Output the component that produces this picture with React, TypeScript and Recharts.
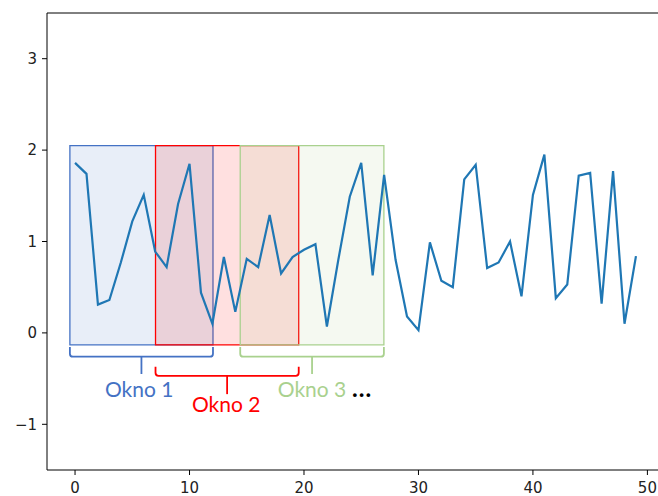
import { LineChart, Line, XAxis, YAxis, ReferenceArea, ReferenceLine, ReferenceDot } from "recharts"

// signal samples, one per step 0..49
const values = [
  1.86, 1.74, 0.31, 0.36, 0.77, 1.22, 1.51, 0.89, 0.72, 1.41,
  1.85, 0.44, 0.1, 0.83, 0.23, 0.81, 0.72, 1.29, 0.65, 0.83,
  0.91, 0.97, 0.07, 0.8, 1.49, 1.86, 0.63, 1.73, 0.8, 0.18,
  0.03, 0.99, 0.57, 0.5, 1.68, 1.84, 0.71, 0.77, 1.0, 0.4,
  1.51, 1.95, 0.38, 0.53, 1.72, 1.75, 0.32, 1.77, 0.1, 0.84,
]

const xTicks = [0, 10, 20, 30, 40, 50]
const yTicks = [-1, 0, 1, 2, 3]

// sliding windows
const windowNames = ["Okno 1", "Okno 2", "Okno 3"]
const windowStart = [-0.45, 7.03, 14.43]
const windowEnd = [12.05, 19.54, 26.98]
const windowTop = 2.05
const windowBottom = -0.13

// braces under each window
const braceEnd = [-0.155, -0.37, -0.155]
const braceLevel = [-0.26, -0.47, -0.26]
const braceTip = [-0.45, -0.67, -0.45]

// window captions
const labelX = [5.6, 13.2, 20.7]
const labelY = [-0.7, -0.86, -0.7]
const moreX = 24.2
const moreY = -0.7

const colors = ["#4472c4", "#ff0000", "#a9d18e"]

const data = values.map((v, i) => ({ step: i, value: v }))

const tickStyle = { fontFamily: "DejaVu Sans", fontSize: 15, fill: "#222" }
const minus = (v: number) => String(v).replace("-", "\u2212")

function Brace(props: any) {
  const { x, y, width, height, stroke } = props
  const r = 3
  const b = y + height
  const d = `M${x},${y} L${x},${b - r} Q${x},${b} ${x + r},${b} L${x + width - r},${b} Q${x + width},${b} ${x + width},${b - r} L${x + width},${y}`
  return <path d={d} fill="none" stroke={stroke} strokeWidth={1.8} />
}

export default function App() {
  return (
    <div style={{ position: "absolute", left: 0, top: 0, width: 658, height: 496, overflow: "hidden", background: "#fff" }}>
      <LineChart width={680} height={496} data={data} margin={{ top: 13, right: 16, bottom: 0, left: 7 }}>
        <XAxis
          dataKey="step"
          type="number"
          domain={[-2.45, 51.45]}
          ticks={xTicks}
          allowDataOverflow
          height={26}
          tickSize={5}
          tickMargin={7}
          stroke="#000"
          tick={tickStyle}
        />
        <YAxis
          type="number"
          domain={[-1.5, 3.5]}
          ticks={yTicks}
          allowDataOverflow
          width={40}
          tickSize={5}
          tickMargin={5}
          stroke="#000"
          tick={tickStyle}
          tickFormatter={minus}
        />
        <ReferenceLine y={3.5} stroke="#000" />
        {windowNames.map((name, i) => (
          <ReferenceArea
            key={name}
            x1={windowStart[i]}
            x2={windowEnd[i]}
            y1={windowBottom}
            y2={windowTop}
            fill={colors[i]}
            fillOpacity={0.12}
            stroke={colors[i]}
            strokeWidth={1.3}
          />
        ))}
        <Line type="linear" dataKey="value" stroke="#1f77b4" strokeWidth={2.2} dot={false} isAnimationActive={false} />
        {windowNames.map((name, i) => (
          <ReferenceArea
            key={name + "-brace"}
            x1={windowStart[i]}
            x2={windowEnd[i]}
            y1={braceLevel[i]}
            y2={braceEnd[i]}
            stroke={colors[i]}
            shape={(p: any) => <Brace {...p} stroke={colors[i]} />}
          />
        ))}
        {windowNames.map((name, i) => (
          <ReferenceLine
            key={name + "-tip"}
            segment={[
              { x: (windowStart[i] + windowEnd[i]) / 2, y: braceLevel[i] },
              { x: (windowStart[i] + windowEnd[i]) / 2, y: braceTip[i] },
            ]}
            stroke={colors[i]}
            strokeWidth={1.8}
          />
        ))}
        {windowNames.map((name, i) => (
          <ReferenceDot
            key={name + "-label"}
            x={labelX[i]}
            y={labelY[i]}
            r={0}
            shape={(p: any) => (
              <text x={p.cx} y={p.cy} textAnchor="middle" fill={colors[i]} fontFamily="Lato" fontSize={21}>
                {name}
              </text>
            )}
          />
        ))}
        <ReferenceDot
          x={moreX}
          y={moreY}
          r={0}
          shape={(p: any) => (
            <text x={p.cx} y={p.cy} textAnchor="start" fill="#000" fontFamily="Lato" fontWeight="bold" fontSize={24} letterSpacing={1}>
              ...
            </text>
          )}
        />
      </LineChart>
    </div>
  )
}
